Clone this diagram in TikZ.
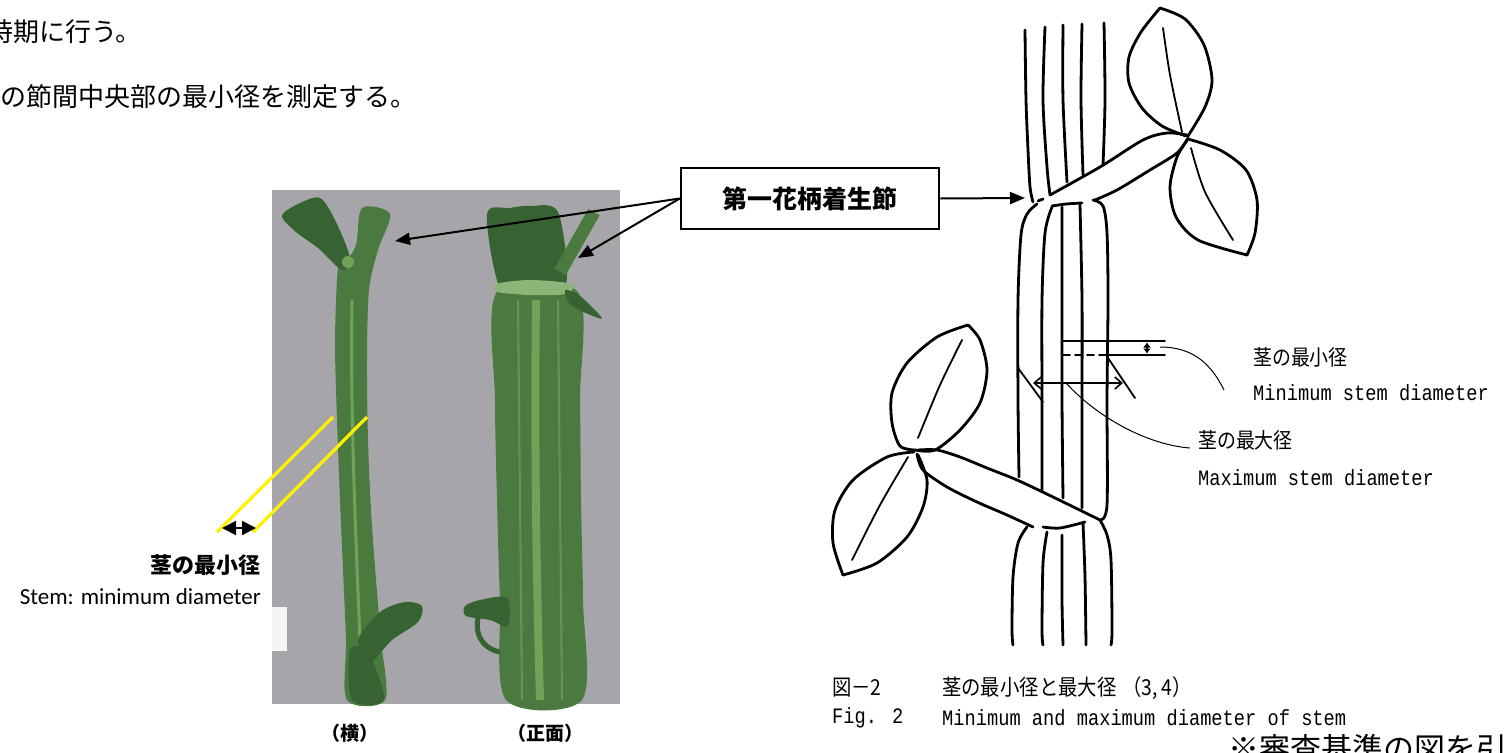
\documentclass[tikz,border=0pt]{standalone}
\usepackage{fontspec}
\setmainfont{Liberation Serif}
\newfontfamily\jp{Noto Sans CJK JP}
\newfontfamily\jpn[FakeStretch=0.88]{Noto Sans CJK JP}
\newfontfamily\monof[FakeStretch=0.85]{Liberation Mono}
\newfontfamily\calf{Carlito}
\usetikzlibrary{arrows.meta}
\definecolor{photogray}{RGB}{166,166,170}
\definecolor{stemg}{RGB}{74,122,64}
\definecolor{stemd}{RGB}{55,98,50}
\definecolor{steml}{RGB}{112,162,88}
\definecolor{yel}{RGB}{255,240,0}
\tikzset{
  ink/.style={line width=2.8pt, line cap=round, line join=round},
  thinink/.style={line width=1.8pt, line cap=round},
  leader/.style={line width=1pt},
  bigarr/.style={line width=2pt, -{Triangle[length=15pt,width=12pt]}},
  jplabel/.style={font=\jpn\fontsize{21.5}{21.5}\selectfont, inner sep=0, anchor=west},
  jpcap/.style={font=\jpn\fontsize{22}{22}\selectfont, inner sep=0, anchor=west},
  enlabel/.style={font=\monof\fontsize{22}{22}\selectfont, inner sep=0, anchor=west},
}
\begin{document}
\begin{tikzpicture}[x=1pt,y=-1pt]
\useasboundingbox (0,0) rectangle (1506,752);
\clip (0,0) rectangle (1506,752);
\fill[white] (0,0) rectangle (1506,752);

% ---- top text ----
\node[anchor=east, inner sep=0, font=\jp\fontsize{26}{26}\selectfont] (t1) at (142,32) {時期に行う。};
\node[anchor=west, inner sep=0, font=\jp\fontsize{26}{26}\selectfont] (t2) at (0,97) {の節間中央部の最小径を測定する。};

% ---- photo ----
\fill[photogray] (272,190) rectangle (620,704);
\fill[white!92!gray] (272,607) rectangle (287,651);
% left stem
\fill[stemg] plot[smooth cycle] coordinates {(338,268) (335,340) (337,420) (340,500) (343,570) (346,640) (347,700) (385,700) (381,640) (376,580) (371,510) (368,440) (367,360) (369,290) (378,250) (390,214) (362,208) (356,245) (345,262)};
\fill[stemd] plot[smooth cycle] coordinates {(282,216) (298,204) (320,198) (336,222) (350,258) (342,270) (318,248) (296,232)};
\fill[steml] (348,262) circle (6);
\draw[steml, line width=3pt] (352,300) .. controls (350,420) and (356,540) .. (362,690);
\fill[stemd] plot[smooth cycle] coordinates {(358,640) (380,612) (405,602) (422,606) (418,622) (392,640) (370,662)};
\fill[stemd] plot[smooth cycle] coordinates {(350,650) (368,652) (384,700) (352,700)};
% right stem
\fill[stemg] plot[smooth cycle] coordinates {(497,292) (495,400) (497,500) (500,600) (506,700) (582,700) (583,600) (581,500) (580,400) (578,292)};
\fill[stemd] plot[smooth cycle] coordinates {(487,214) (510,208) (530,206) (558,212) (566,284) (532,292) (500,288)};
\draw[stemg, line width=13pt] (560,272) -- (594,212);
\fill[steml!80!white] plot[smooth cycle] coordinates {(496,284) (530,280) (572,284) (566,294) (530,295) (498,292)};
\fill[stemd] plot[smooth cycle] coordinates {(565,290) (580,296) (602,318) (588,314) (570,304)};
\draw[steml, line width=8pt] (536,300) .. controls (534,450) and (537,600) .. (540,700);
\draw[steml!70!stemg, line width=2pt] (518,300) -- (522,700);
\draw[steml!70!stemg, line width=2pt] (558,300) -- (562,700);
\fill[stemd] plot[smooth cycle] coordinates {(507,598) (480,600) (465,606) (466,616) (490,620) (508,626)};
\draw[stemd, line width=5pt] (478,618) .. controls (474,640) and (488,650) .. (500,652);

% yellow leader lines and arrow
\draw[yel, line width=3.2pt] (217,532) -- (333,417);
\draw[yel, line width=3.2pt] (253,532) -- (367,417);
\draw[line width=2pt, {Triangle[length=14pt,width=14pt]}-{Triangle[length=14pt,width=14pt]}] (222,528) -- (256,528);

% left labels
\node[anchor=east, inner sep=0, font=\jp\bfseries\fontsize{22}{22}\selectfont] (lmin) at (261,565) {茎の最小径};
\node[anchor=east, inner sep=0, font=\calf\fontsize{23}{23}\selectfont] (lmine) at (261,597) {Stem: minimum diameter};
\node[inner sep=0, font=\jp\bfseries\fontsize{19}{19}\selectfont] (side) at (350,733) {（横）};
\node[inner sep=0, font=\jp\bfseries\fontsize{19}{19}\selectfont] (front) at (545,733) {（正面）};

% ---- box and arrows ----
\node[draw, line width=2.5pt, minimum width=258pt, minimum height=61pt, inner sep=0,
      font=\jp\bfseries\fontsize{25}{25}\selectfont] (box) at (810,198.5) {第一花柄着生節};
\coordinate (tL) at (395,241);
\coordinate (tR) at (578,258);
\coordinate (tS) at (1025,198);
\draw[bigarr] (box.west) -- (tL);
\draw[bigarr] (box.west) -- (tR);
\draw[bigarr] (box.east) -- (tS);

% ---- line drawing of stem ----
% upper stem lines
\draw[ink] plot[smooth] coordinates {(1025,30) (1026,100) (1028,150) (1030,187) (1033,202)};
\draw[ink] plot[smooth] coordinates {(1045,27) (1043,100) (1047,167) (1050,195)};
\draw[ink] plot[smooth] coordinates {(1063,25) (1063,100) (1067,182)};
\draw[ink] plot[smooth] coordinates {(1082,24) (1081,100) (1083,175)};
\draw[ink] plot[smooth] coordinates {(1104,23) (1105,100) (1103,165)};
% upper petiole
\draw[ink] plot[smooth] coordinates {(1050,195) (1100,167) (1143,140) (1167,133) (1187,135)};
\draw[ink] plot[smooth] coordinates {(1095,200) (1117,190) (1150,170) (1177,153) (1188,138)};
% node marks
\draw[ink] (1038,201) -- (1043,199);
\draw[ink] plot[smooth] coordinates {(1052,206) (1066,204) (1082,203)};
% middle stem lines
\draw[ink] plot[smooth] coordinates {(1037,204) (1027,214) (1021,235) (1018,300) (1018,400) (1019,477)};
\draw[ink] plot[smooth] coordinates {(1052,207) (1045,233) (1042,300) (1042,400) (1042,490)};
\draw[ink] plot[smooth] coordinates {(1062,207) (1062,300) (1062,400) (1063,498)};
\draw[ink] plot[smooth] coordinates {(1080,205) (1082,300) (1082,400) (1082,508)};
\draw[ink] plot[smooth] coordinates {(1093,200) (1103,206) (1107,233) (1108,300) (1107,400) (1107,505) (1100,520)};
% lower petiole
\draw[ink] plot[smooth] coordinates {(918,450) (937,450) (960,457) (987,468) (1017,480) (1053,497) (1100,520)};
\draw[ink] plot[smooth] coordinates {(917,454) (923,470) (947,487) (977,502) (1007,515) (1033,527)};
\draw[ink] plot[smooth] coordinates {(1043,527) (1060,528) (1085,522)};
% bottom stem lines
\draw[ink] plot[smooth] coordinates {(1027,527) (1018,543) (1013,577) (1012,630) (1013,645)};
\draw[ink] plot[smooth] coordinates {(1047,532) (1043,563) (1042,630) (1043,645)};
\draw[ink] plot[smooth] coordinates {(1062,535) (1062,600) (1063,645)};
\draw[ink] plot[smooth] coordinates {(1083,523) (1085,577) (1086,645)};
\draw[ink] plot[smooth] coordinates {(1100,520) (1107,535) (1111,560) (1112,630) (1111,645)};
% upper right leaves
\draw[ink] plot[smooth] coordinates {(1186,136) (1162,126) (1142,108) (1129,83) (1129,57) (1141,32) (1160,8)};
\draw[ink] plot[smooth] coordinates {(1160,8) (1185,19) (1204,45) (1212,80) (1205,107) (1188,136)};
\draw[thinink] plot[smooth] coordinates {(1163,28) (1170,75) (1182,132)};
\draw[ink] plot[smooth] coordinates {(1188,139) (1177,157) (1170,187) (1176,217) (1198,240) (1247,255)};
\draw[ink] plot[smooth] coordinates {(1188,139) (1220,150) (1246,170) (1257,200) (1255,233) (1247,255)};
\draw[thinink] plot[smooth] coordinates {(1191,148) (1205,192) (1233,240)};
% lower left leaves
\draw[ink] plot[smooth] coordinates {(915,450) (900,446) (892,423) (892,393) (907,363) (937,337) (968,325)};
\draw[ink] plot[smooth] coordinates {(968,325) (980,340) (987,370) (980,403) (960,430) (935,450) (915,450)};
\draw[thinink] plot[smooth] coordinates {(962,340) (940,385) (918,438)};
\draw[ink] plot[smooth] coordinates {(914,452) (887,457) (853,480) (835,510) (833,543) (843,575)};
\draw[ink] plot[smooth] coordinates {(843,575) (877,563) (907,537) (923,507) (927,480) (918,455)};
\draw[thinink] plot[smooth] coordinates {(908,457) (880,505) (852,560)};

% measurement marks
\draw[thinink] (1063,341) -- (1165,341);
\draw[thinink, dashed, dash pattern=on 7pt off 5pt] (1063,355) -- (1107,355);
\draw[thinink] (1107,355) -- (1165,355);
\draw[line width=1.6pt, {Latex[length=5pt,width=8pt]}-{Latex[length=5pt,width=8pt]}] (1147,342.5) -- (1147,353.5);
\draw[thinink] (1018,368) -- (1043,402);
\draw[thinink] (1108,358) -- (1135,398);
\draw[line width=1.6pt, {Straight Barb[length=7pt,width=12pt]}-{Straight Barb[length=7pt,width=12pt]}] (1033,383) -- (1123,383);
\coordinate (minend) at (1224,390);
\coordinate (maxend) at (1190,448);
\draw[leader] (1160,347) .. controls (1195,347) and (1212,366) .. (minend);
\draw[leader] (1066,383) .. controls (1100,420) and (1150,445) .. (maxend);

% right labels
\node[jplabel] (rmin) at (1253,357) {茎の最小径};
\node[enlabel] (rmine) at (1253,393) {Minimum stem diameter};
\node[jplabel] (rmax) at (1198,440) {茎の最大径};
\node[enlabel] (rmaxe) at (1198,478) {Maximum stem diameter};

% captions
\node[jpcap] (c1a) at (832,688) {図－2};
\node[jpcap] (c1b) at (942,688) {茎の最小径と最大径\hspace{6pt}（3,\,4）};
\node[enlabel] (c2a) at (832,718) {Fig. 2};
\node[enlabel] (c2b) at (942,718) {Minimum and maximum diameter of stem};
\node[anchor=north west, inner sep=0, font=\jp\fontsize{31}{31}\selectfont] (note) at (1228,734) {※審査基準の図を引};
\end{tikzpicture}
\end{document}
